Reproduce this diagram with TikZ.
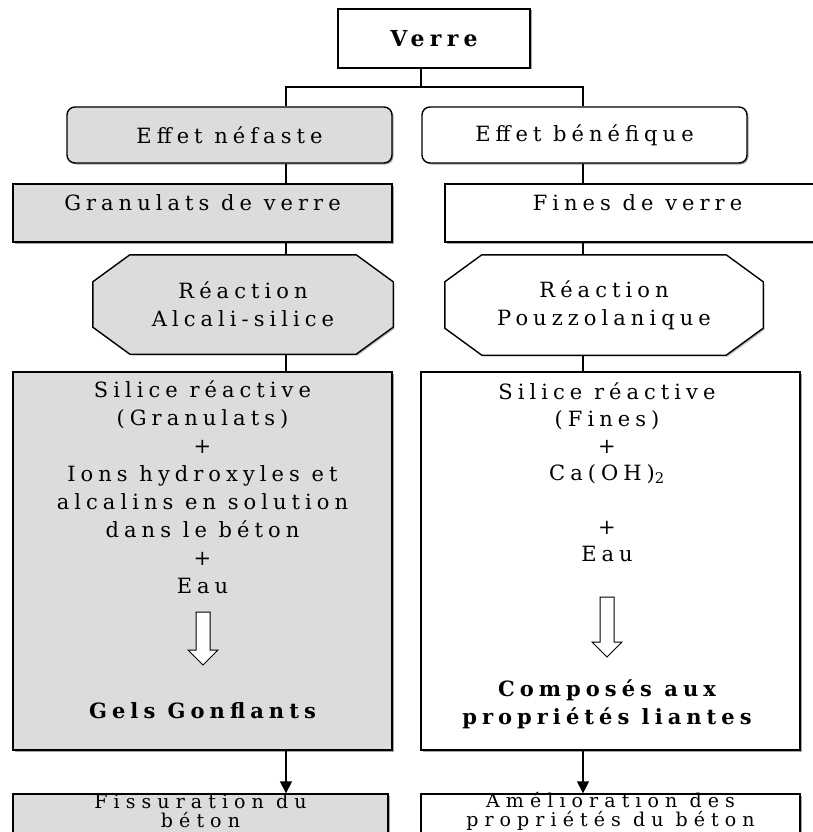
\documentclass[tikz,border=0pt]{standalone}
\usepackage{fontspec}
\setmainfont{DejaVu Serif}[LetterSpace=24]
\newfontfamily\lowfont{DejaVu Serif}[LetterSpace=32]
\usetikzlibrary{arrows.meta,shadows,backgrounds}
\definecolor{fillgrey}{RGB}{220,220,220}
\tikzset{box/.style = {shape = rectangle, draw, line width = 1.4pt, inner sep = 0pt, align = center,
  font = \fontsize{21}{28}\selectfont, drop shadow = {shadow xshift = 1.5pt, shadow yshift = -1.5pt, fill = black!70}}}
\tikzset{greybox/.style = {box, fill = fillgrey}}
\tikzset{whitebox/.style = {box, fill = white}}
\tikzset{roundbox/.style = {box, rounded corners = 8pt}}
\tikzset{octo/.style = {shape = rectangle, inner sep = 0pt, align = center, font = \fontsize{21}{28}\selectfont}}
\tikzset{octoline/.style = {draw, line width = 1.4pt, drop shadow = {shadow xshift = 1.5pt, shadow yshift = -1.5pt, fill = black!50}}}
\tikzset{txt/.style = {inner sep = 0pt, align = center, font = \fontsize{21}{28}\selectfont}}
\tikzset{lowtxt/.style = {txt, font = \fontsize{19}{19}\selectfont\lowfont}}
\tikzset{hollowline/.style = {draw, fill = white, line width = 1pt}}
\tikzset{link/.style = {line width = 1.5pt}}
\tikzset{flow/.style = {link, -{Triangle[width = 12pt, length = 12pt]}}}

\newcommand{\octogone}[2]{\draw[octoline, fill = #2] ([xshift = 37pt]#1.north west) -- ([xshift = -37pt]#1.north east)
  -- ([yshift = -27pt]#1.north east) -- ([yshift = 27pt]#1.south east) -- ([xshift = -37pt]#1.south east)
  -- ([xshift = 37pt]#1.south west) -- ([yshift = 27pt]#1.south west) -- ([yshift = -27pt]#1.north west) -- cycle;}
\newcommand{\fleche}[2]{\draw[hollowline] ([xshift = -7pt]#1) -- ++(0, #2) -- ++(-8, 0) -- ++(15, 15) -- ++(15, -15)
  -- ++(-8, 0) -- ++(0, -#2) -- cycle;}

\begin{document}
\begin{tikzpicture}[x = 1pt, y = -1pt]
	\clip (0,0) rectangle (813,832);

	\node[whitebox, line width = 2pt, minimum width = 192pt, minimum height = 59pt, font = \bfseries\fontsize{22}{26}\selectfont] (verre) at (434, 38.5) {Verre};
	\coordinate (split) at (421, 87);
	\coordinate (lcol) at (286, 0);
	\coordinate (rcol) at (583, 0);

	\node[roundbox, fill = fillgrey, minimum width = 325pt, minimum height = 56pt] (nefaste) at (229.5, 135) {Effet néfaste};
	\node[roundbox, fill = white, minimum width = 325pt, minimum height = 56pt] (benefique) at (584.5, 135) {Effet bénéfique};
	\node[greybox, minimum width = 379pt, minimum height = 58pt, text depth = 20pt] (granulats) at (202.5, 213) {Granulats de verre};
	\node[whitebox, minimum width = 385pt, minimum height = 58pt, text depth = 20pt] (fines) at (637.5, 213) {Fines de verre};
	\node[octo, minimum width = 300pt, minimum height = 99pt] (alcali) at (243, 304.5) {Réaction\\Alcali-silice};
	\node[octo, minimum width = 318pt, minimum height = 100pt] (pouzzo) at (604, 305) {Réaction\\Pouzzolanique};
	\begin{pgfonlayer}{background}
		\octogone{alcali}{fillgrey}
		\octogone{pouzzo}{white}
	\end{pgfonlayer}
	\node[greybox, minimum width = 379pt, minimum height = 378pt] (gauche) at (202.5, 561) {};
	\node[whitebox, minimum width = 379pt, minimum height = 378pt] (droite) at (610.5, 561) {};
	\node[greybox, minimum width = 375pt, minimum height = 52pt] (fissure) at (200.5, 820) {};
	\node[whitebox, minimum width = 379pt, minimum height = 52pt] (amelioration) at (610.5, 820) {};
	\node[lowtxt] (fissuretxt) at (200.5, 811) {Fissuration du\\béton};
	\node[lowtxt] (ameliorationtxt) at (610.5, 811) {Amélioration des\\propriétés du béton};

	\node[txt, anchor = north] (reactifsg) at (202.5, 380) {Silice réactive\\(Granulats)\\+\\Ions hydroxyles et\\alcalins en solution\\dans le béton\\+\\Eau};
	\coordinate (flecheg) at (203, 612);
	\fleche{flecheg}{38}
	\node[txt, font = \bfseries\fontsize{21}{28}\selectfont] (gels) at (202.5, 711) {Gels Gonflants};

	\node[txt, anchor = north, font = \fontsize{21}{27}\selectfont] (reactifsd) at (607, 382) {Silice réactive\\(Fines)\\+\\Ca(OH)\textsubscript{2}\\[27pt]+\\Eau};
	\coordinate (fleched) at (607, 597);
	\fleche{fleched}{45}
	\node[txt, font = \bfseries\fontsize{21}{28}\selectfont] (composes) at (607, 704) {Composés aux\\propriétés liantes};

	\draw[link] (verre.south -| split) -- (split);
	\draw[link] (nefaste.north -| lcol) |- (split) -| (benefique.north -| rcol);
	\draw[link] (nefaste.south -| lcol) -- (granulats.north -| lcol);
	\draw[link] (granulats.south -| lcol) -- (alcali.north -| lcol);
	\draw[link] (alcali.south -| lcol) -- (gauche.north -| lcol);
	\draw[flow] (gauche.south -| lcol) -- (fissure.north -| lcol);
	\draw[link] (benefique.south -| rcol) -- (fines.north -| rcol);
	\draw[link] (fines.south -| rcol) -- (pouzzo.north -| rcol);
	\draw[link] (pouzzo.south -| rcol) -- (droite.north -| rcol);
	\draw[flow] (droite.south -| rcol) -- (amelioration.north -| rcol);
\end{tikzpicture}
\end{document}
